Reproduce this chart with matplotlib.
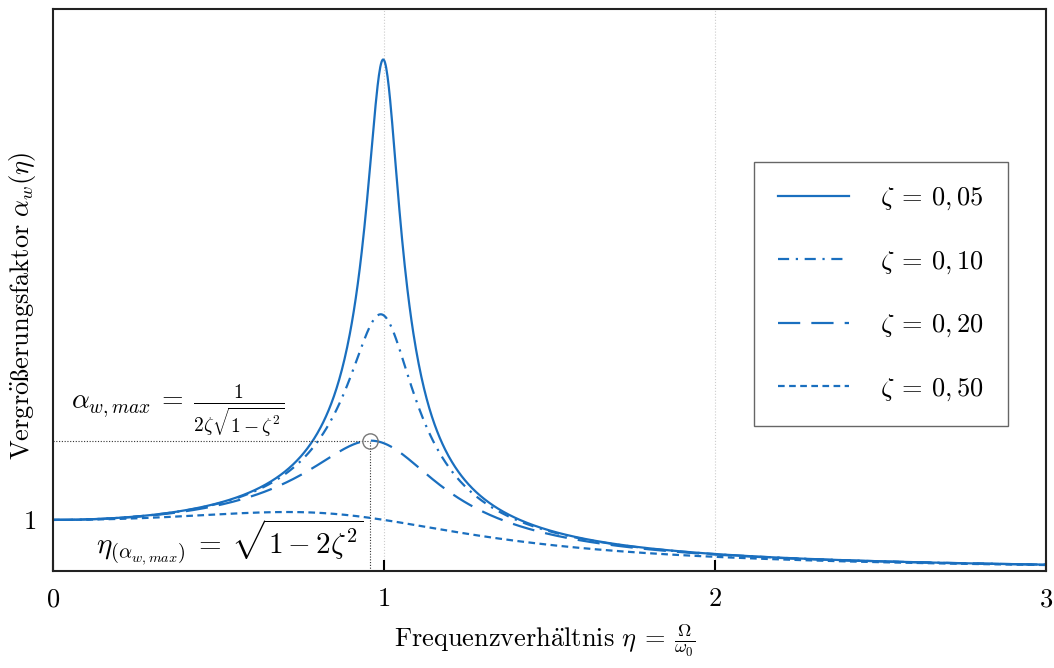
import numpy as np
import matplotlib.pyplot as plt

plt.rcParams['mathtext.fontset'] = 'cm'
plt.rcParams['font.family'] = ['cmr10', 'DejaVu Serif']
plt.rcParams['axes.formatter.use_mathtext'] = True

blue = '#1a6fbf'

# Daempfungsgrade und Linienstile
zetas = [0.05, 0.10, 0.20, 0.50]
zeta_labels = [r'$\zeta\:=\:0,05$', r'$\zeta\:=\:0,10$', r'$\zeta\:=\:0,20$', r'$\zeta\:=\:0,50$']
styles = ['-', (0, (5, 3, 1, 3)), (0, (10, 5)), (0, (3, 2))]
zeta_mark = 0.20

x_ticks = [0, 1, 2, 3]
y_ticks = [1]

eta = np.linspace(0, 3, 1500)

fig = plt.figure(figsize=(10.54, 6.68), dpi=100)
ax = fig.add_axes([0.0503, 0.1452, 0.9421, 0.8413])

for xv in [1, 2]:
    ax.axvline(xv, color='#cccccc', lw=0.8, ls=':', zorder=0)

for z, lab, ls in zip(zetas, zeta_labels, styles):
    amp = 1 / np.sqrt((1 - eta**2)**2 + (2 * z * eta)**2)
    ax.plot(eta, amp, color=blue, lw=1.6, ls=ls, label=lab)

# Maximum der Kurve zeta = 0,20
eta_max = np.sqrt(1 - 2 * zeta_mark**2)
amp_max = 1 / (2 * zeta_mark * np.sqrt(1 - zeta_mark**2))
ax.plot([0, eta_max], [amp_max, amp_max], color='#333333', lw=0.8, ls=(0, (1, 1.5)))
ax.plot([eta_max, eta_max], [0, amp_max], color='#333333', lw=0.8, ls=(0, (1, 1.5)))
ax.plot(eta_max, amp_max, 'o', ms=11, mfc='none', mec='#777777', mew=1)

ax.text(0.055, amp_max + 0.03, r'$\alpha_{w,max}\:=\:\frac{1}{2\zeta\sqrt{1-\zeta^2}}$',
        fontsize=20, va='bottom', ha='left')
ax.text(0.94, 0.08, r'$\eta_{(\alpha_{w,max})}\:=\:\sqrt{1-2\zeta^2}$',
        fontsize=21, va='bottom', ha='right')

ax.set_xlim(0, 3)
ax.set_ylim(0, 11)
ax.set_xticks(x_ticks)
ax.set_yticks(y_ticks)
ax.set_xticklabels([f'${t}$' for t in x_ticks])
ax.set_yticklabels([f'${t}$' for t in y_ticks])
ax.tick_params(axis='x', direction='in', length=8, width=1.5, labelsize=19, pad=12)
ax.tick_params(axis='y', length=0, labelsize=19, pad=12)
for s in ax.spines.values():
    s.set_linewidth(1.5)
    s.set_color('#222222')

ax.set_xlabel(r'$\mathrm{Frequenzverh\ddot{a}ltnis}\ \eta\:=\:\frac{\Omega}{\omega_0}$', fontsize=19, va='center')
ax.xaxis.set_label_coords(0.495, -0.123)
ax.set_ylabel(r'$\mathrm{Vergr\ddot{o}ßerungsfaktor}\ \alpha_w(\eta)$', fontsize=19, va='center')
ax.yaxis.set_label_coords(-0.031, 0.472)

leg = ax.legend(loc='upper right', bbox_to_anchor=(0.962, 0.728), borderaxespad=0,
                fontsize=19, handlelength=2.7, handletextpad=1.2, labelspacing=1.4,
                borderpad=0.9, fancybox=False, framealpha=1)
leg.get_frame().set_edgecolor('#666666')
leg.get_frame().set_linewidth(1)

fig.savefig('out.png', dpi=100)
